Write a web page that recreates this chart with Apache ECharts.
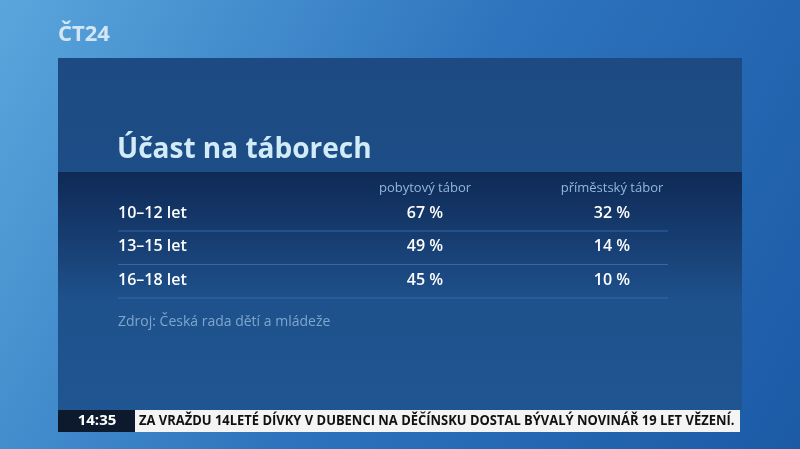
<!DOCTYPE html>
<html><head><meta charset="utf-8">
<script src="https://cdn.jsdelivr.net/npm/echarts@6/dist/echarts.min.js"></script>
<style>html,body{margin:0;padding:0;background:#2a6db5}#main{width:800px;height:449px}</style>
</head><body><div id="main"></div>
<script>
// table data
var title = 'Účast na táborech';
var columns = ['pobytový tábor', 'příměstský tábor'];
var ageGroups = ['10–12 let', '13–15 let', '16–18 let'];
var stayCamp = [67, 49, 45];
var dayCamp = [32, 14, 10];
var source = 'Zdroj: Česká rada dětí a mládeže';
var clock = '14:35';
var ticker = 'ZA VRAŽDU 14LETÉ DÍVKY V DUBENCI NA DĚČÍNSKU DOSTAL BÝVALÝ NOVINÁŘ 19 LET VĚZENÍ.';

var myChart = echarts.init(document.getElementById('main'));
var font = 'Open Sans';
var colX = [425, 612];
var rowY0 = 213, rowH = 33.5;

var els = [
  // background
  {type: 'rect', shape: {x: 0, y: 0, width: 800, height: 449}, z: 0,
   style: {fill: new echarts.graphic.LinearGradient(0, 0, 1, 1, [
     {offset: 0, color: '#5aa6dc'}, {offset: 0.5, color: '#2d73bd'}, {offset: 1, color: '#1c5aa6'}])}},
  // logo
  {type: 'text', x: 58, y: 24, z: 1, style: {text: 'ČT24', fill: 'rgba(255,255,255,0.75)', font: 'bold 22px ' + font}},
  // panel
  {type: 'rect', shape: {x: 58, y: 58, width: 684, height: 352}, z: 1,
   style: {fill: new echarts.graphic.LinearGradient(0, 0, 0, 1, [
     {offset: 0, color: '#1d4a82'}, {offset: 1, color: '#1f5591'}])}},
  // darker band
  {type: 'rect', shape: {x: 58, y: 172, width: 684, height: 130}, z: 2,
   style: {fill: new echarts.graphic.LinearGradient(0, 0, 0, 1, [
     {offset: 0, color: 'rgba(10,30,70,0.75)'}, {offset: 1, color: 'rgba(10,30,70,0)'}])}},
  {type: 'text', x: 117, y: 150, z: 3, style: {text: title, fill: '#d2ebf8', font: 'bold 28px ' + font, verticalAlign: 'middle'}},
  {type: 'text', x: 118, y: 322, z: 3, style: {text: source, fill: '#7fa6cc', font: '14px ' + font, verticalAlign: 'middle'}},
  // ticker
  {type: 'rect', shape: {x: 58, y: 410, width: 77, height: 22}, z: 3, style: {fill: '#0d1a2e'}},
  {type: 'text', x: 97, y: 421, z: 4, style: {text: clock, fill: '#ffffff', font: 'bold 15px ' + font, align: 'center', verticalAlign: 'middle'}},
  {type: 'rect', shape: {x: 135, y: 410, width: 605, height: 22}, z: 3, style: {fill: '#f4f4f4'}},
  {type: 'text', x: 139, y: 421, scaleX: 0.925, z: 4, style: {text: ticker, fill: '#111111', font: 'bold 14px ' + font, verticalAlign: 'middle'}}
];

columns.forEach(function (c, i) {
  els.push({type: 'text', x: colX[i], y: 188, z: 3,
    style: {text: c, fill: '#8fb9de', font: '13px ' + font, align: 'center', verticalAlign: 'middle'}});
});

ageGroups.forEach(function (g, i) {
  var y = rowY0 + i * rowH;
  var f = '600 16px ' + font;
  els.push({type: 'text', x: 118, y: y, z: 3, style: {text: g, fill: '#ffffff', font: f, verticalAlign: 'middle'}});
  els.push({type: 'text', x: colX[0], y: y, z: 3, style: {text: stayCamp[i] + ' %', fill: '#ffffff', font: f, align: 'center', verticalAlign: 'middle'}});
  els.push({type: 'text', x: colX[1], y: y, z: 3, style: {text: dayCamp[i] + ' %', fill: '#ffffff', font: f, align: 'center', verticalAlign: 'middle'}});
  els.push({type: 'line', z: 3, shape: {x1: 118, y1: y + 18, x2: 668, y2: y + 18},
    style: {stroke: 'rgba(60,120,190,0.7)', lineWidth: 1}});
});

myChart.setOption({animation: false, graphic: {elements: els}});
</script></body></html>
